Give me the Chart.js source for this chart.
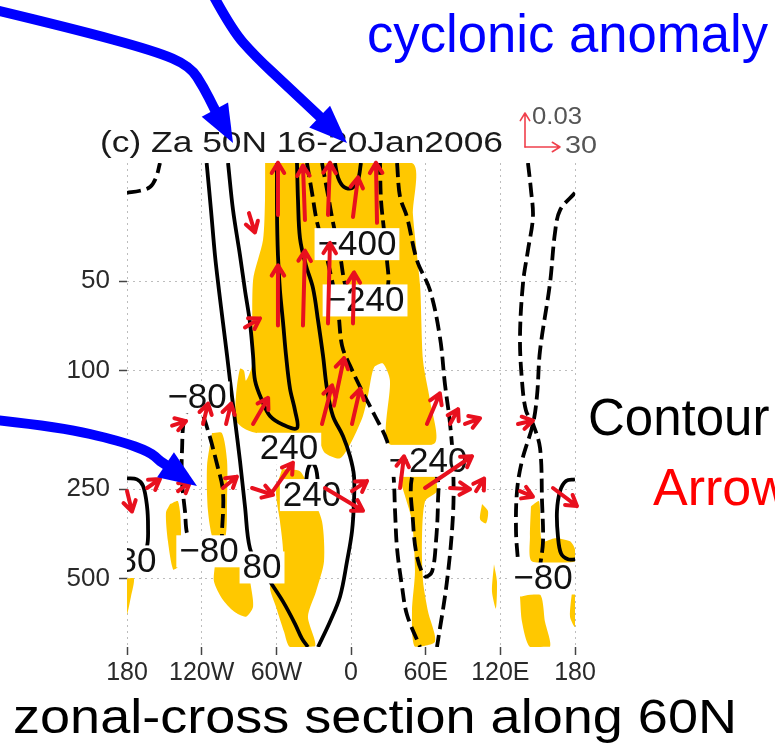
<!DOCTYPE html>
<html>
<head>
<meta charset="utf-8">
<script src="https://cdn.jsdelivr.net/npm/chart.js@4.4.0/dist/chart.umd.min.js"></script>
<style>
  html, body { margin: 0; padding: 0; background: #fff; }
  canvas { display: block; }
</style>
</head>
<body>
<canvas id="chart" width="775" height="748"></canvas>
<script>
// axes
const lonTicks = [-180, -120, -60, 0, 60, 120, 180];
const lonLabels = ['180', '120W', '60W', '0', '60E', '120E', '180'];
const levTicks = [50, 100, 250, 500];

// shaded areas, [lon, hPa]
const shadeMain = [[-69, 20], [49, 20], [49.8, 29.9], [55.5, 51.6], [57.9, 92.5], [63.5, 126], [67.5, 175], [29.7, 175], [31.3, 108], [25.7, 94.6], [18.5, 97.6], [13.7, 121], [9.6, 142], [0.8, 172], [-8.8, 197], [-20.9, 189], [-26.5, 172], [-41, 166], [-57.1, 163], [-73.1, 163], [-85.2, 157], [-92.4, 147], [-92.4, 121], [-89.2, 98.4], [-86, 100], [-84.4, 108], [-79.6, 96.1], [-78.7, 49.6], [-70.7, 36.3], [-69.1, 26.6]];
const shadeStrip = [[-111.7, 162], [-103.7, 162], [-99.6, 201], [-99.6, 275], [-101.2, 366], [-110.1, 375], [-114.9, 297], [-115.7, 209]];
const shadeLowWest = [[-109.3, 448], [-93.2, 431], [-83.6, 456], [-80.4, 532], [-78.7, 622], [-84.4, 672], [-94, 646], [-103.7, 584], [-110.1, 512]];
const shadeFarWest = [[-145.4, 281], [-139, 275], [-136.6, 347], [-139, 456], [-143, 466], [-147.1, 375], [-148.7, 301]];
const shadeCentre = [[-55.4, 214], [-41, 218], [-32.9, 254], [-23.3, 321], [-21.7, 438], [-28.1, 553], [-34.6, 672], [-28.9, 845], [-49, 850], [-53.8, 755], [-60.3, 622], [-65.1, 532], [-57.1, 504], [-54.6, 405], [-57.1, 321], [-60.3, 254]];
const shadeEast = [[37.8, 221], [65.1, 218], [69.1, 254], [59.5, 275], [57, 375], [57.9, 512], [61.9, 646], [67.5, 816], [51.4, 849], [49, 646], [51.4, 474], [49, 321], [43.4, 264]];
const shadeDot1 = [[105.3, 281], [110.1, 297], [108.5, 326], [103.7, 316]];
const shadeDot2 = [[114.9, 448], [117.3, 512], [116.5, 632], [113.3, 553]];
const shadeFarEast = [[144.6, 286], [151.1, 275], [153.5, 375], [163.9, 366], [176, 375], [180, 399], [180, 438], [145.5, 438], [143.8, 361]];
const shadeFarEastLow = [[135.8, 575], [151.9, 566], [155.9, 699], [159.9, 849], [143.8, 850], [137.4, 699]];
const shadeEdgeEast = [[177.6, 553], [180, 545], [180, 727], [176, 672]];
const shadeEdgeWest = [[-180, 500], [-174.4, 500], [-176.8, 575], [-180, 660]];

// contours, solid = positive
const posA = [[-116, 20], [-112.5, 28.8], [-109.3, 40.9], [-106.1, 53.6], [-102.9, 68.8], [-99.6, 88.9], [-97.2, 108], [-93.2, 147], [-89.2, 201], [-85.2, 286], [-81.2, 396], [-73.1, 456], [-65.1, 512], [-54.6, 598], [-45, 710], [-39.4, 797], [-34.6, 850]];
const posB = [[-98.8, 20], [-94.8, 28.8], [-89.2, 40.9], [-85.2, 53.6], [-81.2, 68.8], [-78.7, 88.9], [-77.1, 108], [-71.5, 126], [-65.1, 142], [-54.6, 152], [-43.4, 156], [-45, 136], [-49, 115], [-52.2, 88.9], [-54.6, 68.8], [-57.1, 53.6], [-58.7, 40.9], [-59.5, 28.8], [-59.5, 20]];
const posD = [[-43.4, 20], [-42.6, 26.6], [-41, 35.8], [-36.2, 44.2], [-30.5, 52.8], [-26.5, 67.7], [-22.5, 88.9], [-19.3, 115], [-14.5, 142], [-6.4, 166], [-0.8, 194], [2.4, 226], [2.4, 275], [0.8, 347], [-3.2, 438], [-8.8, 575], [-16.9, 699], [-26.5, 850]];
const posCap = [[-36.2, 239], [-34.6, 214], [-31.3, 204], [-28.1, 214], [-26.5, 239]];
const posCup = [[-12.9, 20], [-10.4, 22.4], [-5.6, 24.1], [0.8, 24.3], [5.6, 22.8], [8, 20]];
const posWest = [[-180, 230], [-172, 232], [-167.1, 244], [-163.9, 286], [-163.1, 334], [-163.9, 390], [-169.6, 438]];
const posEast = [[180, 232], [172.8, 235], [168, 254], [165.5, 297], [166.3, 361], [168.8, 412], [174.4, 431], [180, 431]];
// dashed = negative
const negTopWest = [[-180, 25.2], [-169.6, 24.8], [-161.5, 24.1], [-156.7, 22.4], [-153.5, 20]];
const neg240 = [[-35.4, 20], [-31.3, 25.2], [-27.3, 31.6], [-20.9, 39.3], [-15.3, 49.6], [-10.4, 62.7], [-7.2, 82.3], [-0.8, 96.1], [8.8, 116.7], [19.3, 142], [28.9, 172], [33.8, 218], [35.4, 297], [37, 396], [41, 532], [45, 662], [55.5, 850]];
const neg400 = [[-23.3, 20], [-18.5, 25.6], [-14.5, 31.6], [-8.8, 40.9], [-3.2, 53.6], [7.2, 60.3], [23.3, 58], [29.7, 51.6], [28.9, 42.5], [26.5, 33.6], [24.1, 26.6], [23.3, 20]];
const neg80 = [[37, 20], [39.4, 26], [45, 30.4], [53, 42.5], [63.5, 53.6], [71.5, 77.3], [75.5, 111], [79.6, 151], [82, 206], [82, 304], [77.1, 512], [69.1, 850]];
const negLoop = [[59.5, 204], [49, 228], [49.8, 321], [53, 421], [59.5, 492], [65.1, 474], [68.3, 375], [69.9, 275], [69.1, 228], [59.5, 204]];
const negWest = [[-125.4, 128], [-133.4, 142], [-135.8, 186], [-135.8, 235], [-133.4, 297], [-131, 361], [-121.3, 412], [-105.3, 390], [-103.7, 347], [-102.9, 254], [-107.7, 206], [-114.9, 159], [-121.3, 134], [-125.4, 128]];
const negEastA = [[142.2, 20], [144.6, 24.6], [146.2, 30.4], [142.2, 39.3], [138.2, 50.8], [135.8, 77.3], [137.4, 108], [140.6, 136], [146.2, 151], [151.9, 182], [153.5, 275], [154.3, 375], [151.9, 456]];
const negEastB = [[180, 25.2], [168, 28.8], [163.9, 34.4], [159.9, 50.8], [151.9, 85.5], [149.5, 121], [146.2, 151], [137.4, 201], [133.4, 254], [132.6, 347], [134.2, 438]];

// contour labels
const labelText = ['\u2212400', '\u2212240', '\u221280', '240', '240', '\u221280', '80', '80', '\u2212240', '\u221280'];
const labelLon = [4.8, 11.3, -123.7, -49.8, -31.3, -114.1, -71.5, -172, 61.9, 154.3];
const labelLev = [37.5, 58, 123, 183, 262, 405, 459, 438, 201, 500];

// flux vectors: tail lon, tail hPa, horizontal and vertical components
const vecLon = [-58.7, -37, -18.5, 1.6, 20.9, -82, -58.7, -38.6, -18.5, 1.6, -85.2, -143.8, -118.9, -100.4, -78.7, -23.3, -13.7, 0.8, 61, 79.6, 91.6, 134.2, -180, -163.9, -139, -102.9, -79.5, -62.7, -20.9, 0.8, 39.4, 59.5, 79.6, 100.5, 135.8, 162.3];
const vecLev = [29.9, 31.1, 29.9, 30.4, 31.8, 29.5, 70.4, 70.4, 69.3, 69.3, 71.5, 153, 151, 151, 151, 151, 131, 151, 151, 151, 151, 151, 254, 248, 254, 248, 248, 254, 248, 254, 248, 248, 248, 254, 254, 248];
const vecU = [0, -1.7, 1.7, 4.3, -0.9, 5.1, 0, 1.7, 1.7, 0.9, 12.9, 12, 4.3, 4.3, 12.9, 8.6, 8.6, 6.9, 11.1, 6.9, 12.9, 12.9, 4.3, 11.1, 10.3, 12, 18, 17.1, 32.6, 12.9, 3.4, 40.3, 17.1, 6.9, 11.1, 20.6];
const vecW = [0.046, 0.048, 0.046, 0.035, 0.053, -0.017, 0.053, 0.066, 0.071, 0.045, 0.008, 0.004, 0.018, 0.018, 0.023, 0.034, 0.042, 0.031, 0.027, 0.013, 0.005, 0.003, -0.018, 0.008, 0.008, 0.01, -0.006, 0.025, -0.02, 0.009, 0.028, 0.028, -0.001, 0.011, -0.005, -0.016];
const refU = 30, refW = 0.03;

const FONT = '"Liberation Sans", Arial, sans-serif';
const YELLOW = '#ffc800';
const RED = '#e8101e';
const pxPerU = 35 / refU;
const pxPerW = 34 / refW;

function pts(a) { return a.map(p => ({ x: p[0], y: p[1] })); }

function shade(a) {
  return {
    data: pts(a.concat([a[0]])), showLine: true, fill: 'shape',
    backgroundColor: YELLOW, borderColor: 'rgba(0,0,0,0)', borderWidth: 0,
    pointRadius: 0, tension: 0.25, order: 2
  };
}

function contour(a, dashed) {
  return {
    data: pts(a), showLine: true, fill: false,
    borderColor: '#000', borderWidth: 3.8, borderDash: dashed ? [14, 6] : [],
    pointRadius: 0, tension: 0.35, order: 1
  };
}

function arrow(ctx, x0, y0, x1, y1, head, width, color) {
  const ang = Math.atan2(y1 - y0, x1 - x0);
  ctx.strokeStyle = color;
  ctx.lineWidth = width;
  ctx.lineCap = 'round';
  ctx.lineJoin = 'round';
  ctx.beginPath();
  ctx.moveTo(x0, y0);
  ctx.lineTo(x1, y1);
  ctx.moveTo(x1 - head * Math.cos(ang - 0.55), y1 - head * Math.sin(ang - 0.55));
  ctx.lineTo(x1, y1);
  ctx.lineTo(x1 - head * Math.cos(ang + 0.55), y1 - head * Math.sin(ang + 0.55));
  ctx.stroke();
}

function blueArrow(ctx, path, tip) {
  const last = path[path.length - 1];
  const dx = tip[0] - last[0], dy = tip[1] - last[1];
  const len = Math.hypot(dx, dy);
  const ux = dx / len, uy = dy / len;
  const bx = tip[0] - ux * 38, by = tip[1] - uy * 38;
  ctx.strokeStyle = '#0000ff';
  ctx.lineWidth = 10;
  ctx.lineJoin = 'round';
  ctx.lineCap = 'butt';
  ctx.beginPath();
  ctx.moveTo(path[0][0], path[0][1]);
  for (let i = 1; i < path.length - 1; i++) {
    const mx = (path[i][0] + path[i + 1][0]) / 2, my = (path[i][1] + path[i + 1][1]) / 2;
    ctx.quadraticCurveTo(path[i][0], path[i][1], mx, my);
  }
  ctx.lineTo(last[0], last[1]);
  ctx.lineTo(bx + ux * 4, by + uy * 4);
  ctx.stroke();
  ctx.fillStyle = '#0000ff';
  ctx.beginPath();
  ctx.moveTo(tip[0], tip[1]);
  ctx.lineTo(bx - uy * 15, by + ux * 15);
  ctx.lineTo(bx + uy * 15, by - ux * 15);
  ctx.closePath();
  ctx.fill();
}

function fitText(ctx, text, x, y, font, color, width) {
  ctx.save();
  ctx.font = font;
  ctx.fillStyle = color;
  ctx.textAlign = 'left';
  ctx.textBaseline = 'alphabetic';
  const sx = width ? width / ctx.measureText(text).width : 1;
  ctx.translate(x, y);
  ctx.scale(sx, 1);
  ctx.fillText(text, 0, 0);
  ctx.restore();
}

const overlay = {
  id: 'overlay',
  afterDraw(chart) {
    const ctx = chart.ctx, ca = chart.chartArea;
    const xs = chart.scales.x, ys = chart.scales.y;

    // contour labels
    ctx.save();
    ctx.beginPath();
    ctx.rect(ca.left, ca.top, ca.right - ca.left, ca.bottom - ca.top);
    ctx.clip();
    ctx.font = '35px ' + FONT;
    ctx.textAlign = 'center';
    ctx.textBaseline = 'middle';
    labelText.forEach((t, i) => {
      const px = xs.getPixelForValue(labelLon[i]);
      const py = ys.getPixelForValue(labelLev[i]);
      const w = ctx.measureText(t).width;
      ctx.fillStyle = '#fff';
      ctx.fillRect(px - w / 2 - 3, py - 16, w + 6, 32);
      ctx.fillStyle = '#111';
      ctx.fillText(t, px, py + 1);
    });
    ctx.restore();

    // flux vectors
    ctx.save();
    vecLon.forEach((lon, i) => {
      const x0 = xs.getPixelForValue(lon), y0 = ys.getPixelForValue(vecLev[i]);
      arrow(ctx, x0, y0, x0 + vecU[i] * pxPerU, y0 - vecW[i] * pxPerW, 12, 4, RED);
    });
    ctx.restore();

    // reference vector
    ctx.save();
    const ox = 525, oy = 147;
    arrow(ctx, ox, oy, ox, oy - refW * pxPerW, 9, 1.6, '#f0404c');
    arrow(ctx, ox, oy, ox + refU * pxPerU, oy, 9, 1.6, '#f0404c');
    ctx.restore();
    fitText(ctx, '0.03', 532, 124, '24px ' + FONT, '#555', 50);
    fitText(ctx, '30', 565, 153, '24px ' + FONT, '#555', 32);

    // panel title
    fitText(ctx, '(c) Za 50N 16-20Jan2006', 100, 152, '30px ' + FONT, '#1a1a1a', 403);

    // slide annotations
    fitText(ctx, 'cyclonic anomaly', 367, 52, '53px ' + FONT, '#0000ff', 401);
    fitText(ctx, 'Contour', 588, 435, '51px ' + FONT, '#000', null);
    fitText(ctx, 'Arrow', 653, 505, '52px ' + FONT, '#ff0000', null);
    fitText(ctx, 'zonal-cross section along 60N', 13, 733, '49px ' + FONT, '#000', 724);

    ctx.save();
    blueArrow(ctx, [[-5, 10], [70, 28], [155, 51], [190, 66], [204, 88], [214, 108]], [233, 143]);
    blueArrow(ctx, [[213, -5], [232, 30], [255, 56], [285, 84], [318, 115]], [347, 143]);
    blueArrow(ctx, [[-5, 420], [60, 427], [120, 441], [150, 452], [160, 461]], [197, 486]);
    ctx.restore();
  }
};

const datasets = [
  shade(shadeMain), shade(shadeStrip), shade(shadeLowWest), shade(shadeFarWest),
  shade(shadeCentre), shade(shadeEast), shade(shadeDot1), shade(shadeDot2),
  shade(shadeFarEast), shade(shadeFarEastLow), shade(shadeEdgeEast), shade(shadeEdgeWest),
  contour(posA, false), contour(posB, false), contour(posD, false), contour(posCap, false),
  contour(posCup, false), contour(posWest, false), contour(posEast, false),
  contour(negTopWest, true), contour(neg240, true), contour(neg400, true), contour(neg80, true),
  contour(negLoop, true), contour(negWest, true), contour(negEastA, true), contour(negEastB, true)
];

new Chart(document.getElementById('chart').getContext('2d'), {
  type: 'scatter',
  data: { datasets: datasets },
  options: {
    responsive: false,
    animation: false,
    devicePixelRatio: 1,
    events: [],
    layout: { padding: { top: 163, right: 200, bottom: 61, left: 0 } },
    plugins: { legend: { display: false }, tooltip: { enabled: false } },
    scales: {
      x: {
        type: 'linear', min: -180, max: 180, z: 1,
        afterBuildTicks: s => { s.ticks = lonTicks.map(v => ({ value: v })); },
        afterFit: s => { s.height = 40; },
        ticks: {
          autoSkip: false, maxRotation: 0, padding: 3, color: '#2a2a2a',
          font: { family: FONT, size: 25 },
          callback: (v, i) => lonLabels[i]
        },
        grid: { color: '#bdbdbd', lineWidth: 1, tickLength: 8, tickColor: '#444', tickWidth: 1.5, tickBorderDash: [] },
        border: { display: false, dash: [2, 4] }
      },
      y: {
        type: 'logarithmic', min: 20, max: 850, reverse: true, z: 1,
        afterBuildTicks: s => { s.ticks = levTicks.map(v => ({ value: v })); },
        afterFit: s => { s.width = 127; },
        ticks: {
          autoSkip: false, padding: 9, color: '#2a2a2a',
          font: { family: FONT, size: 26 },
          callback: v => String(v)
        },
        grid: { color: '#bdbdbd', lineWidth: 1, tickLength: 8, tickColor: '#444', tickWidth: 1.5, tickBorderDash: [] },
        border: { display: false, dash: [2, 4] }
      }
    }
  },
  plugins: [overlay]
});
</script>
</body>
</html>
